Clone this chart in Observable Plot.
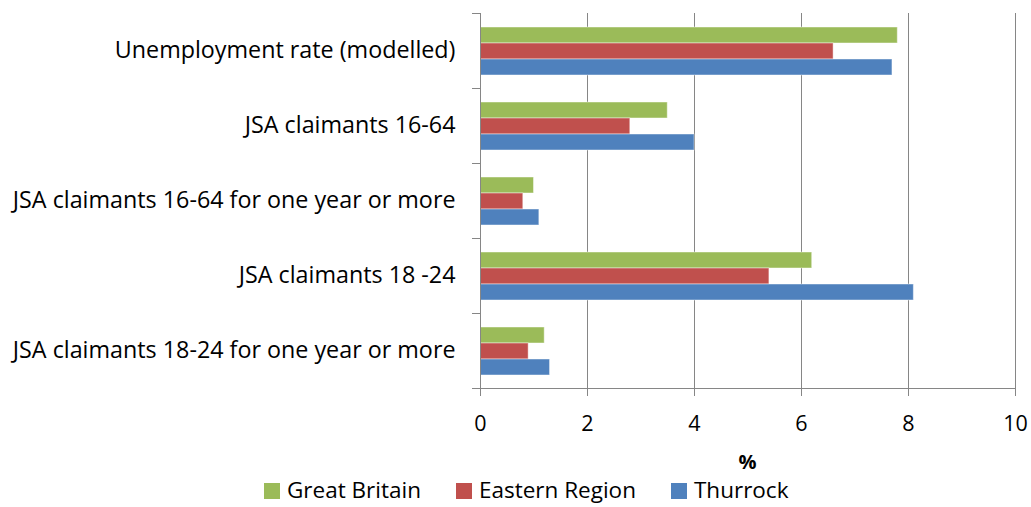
<!DOCTYPE html>
<html>
<head>
<meta charset="utf-8">
<script src="https://cdn.jsdelivr.net/npm/d3@7"></script>
<script src="https://cdn.jsdelivr.net/npm/@observablehq/plot@0.6"></script>
<style>
  html, body { margin: 0; padding: 0; background: #fff; }
  body { font-family: "Open Sans", sans-serif; color: #000; width: 1031px; height: 507px; position: relative; overflow: hidden; }
  #chart { position: absolute; left: 0; top: 0; }
  #xlabel { position: absolute; left: 480px; width: 535px; top: 450px; text-align: center; font-weight: bold; font-size: 20px; line-height: 24px; }
  #legend { position: absolute; left: 264px; top: 475px; height: 30px; display: flex; align-items: center; font-size: 22.5px; line-height: 30px; white-space: nowrap; }
  .item { display: flex; align-items: center; margin-right: 35px; }
  .sw { width: 16px; height: 16px; margin-right: 7px; margin-top: 2px; }
</style>
</head>
<body>
<div id="chart"></div>
<div id="xlabel">%</div>
<div id="legend"></div>
<script>
const categories = [
  "Unemployment rate (modelled)",
  "JSA claimants 16-64",
  "JSA claimants 16-64 for one year or more",
  "JSA claimants 18 -24",
  "JSA claimants 18-24 for one year or more"
];
const series = ["Great Britain", "Eastern Region", "Thurrock"];
const greatBritain  = [7.8, 3.5, 1.0, 6.2, 1.2];
const easternRegion = [6.6, 2.8, 0.8, 5.4, 0.9];
const thurrock      = [7.7, 4.0, 1.1, 8.1, 1.3];
const xTicks = [0, 2, 4, 6, 8, 10];
const colors = ["#9BBB59", "#C0504D", "#4F81BD"];

const valuesBySeries = [greatBritain, easternRegion, thurrock];
const table = [];
categories.forEach((c, i) => {
  series.forEach((s, j) => {
    table.push({category: c, series: s, value: valuesBySeries[j][i]});
  });
});

const grid = "#868686";
const plot = Plot.plot({
  width: 1031,
  height: 440,
  marginLeft: 480,
  marginRight: 16,
  marginTop: 12,
  marginBottom: 52,
  style: {fontFamily: "Open Sans", fontSize: "20px", color: "#000", background: "#fff", overflow: "visible"},
  x: {domain: [0, 10], axis: null},
  fy: {domain: categories, padding: 0, axis: null},
  y: {domain: series, paddingInner: 0, paddingOuter: 0.762, axis: null},
  color: {domain: series, range: colors},
  marks: [
    Plot.ruleX(xTicks.slice(1), {stroke: grid, strokeWidth: 1}),
    Plot.barX(table, {x: "value", y: "series", fy: "category", fill: "series", stroke: "#ffffff", strokeOpacity: 0.45, strokeWidth: 1}),
    Plot.frame({anchor: "left", stroke: grid}),
    Plot.frame({anchor: "top", stroke: grid, insetLeft: -8, insetRight: 535}),
    Plot.frame({anchor: "bottom", stroke: grid, insetLeft: -8, insetRight: 535}),
    Plot.frame({anchor: "bottom", stroke: grid, facetAnchor: "bottom"}),
    Plot.axisFy({anchor: "left", tickSize: 0, tickPadding: 25, label: null, fontSize: 23.3, fill: "#000"}),
    Plot.axisX({anchor: "bottom", ticks: xTicks, tickSize: 8, tickPadding: 19, label: null, fontSize: 21.5, stroke: grid, fill: "#000"})
  ]
});
document.getElementById("chart").appendChild(plot);

const legend = d3.select("#legend");
series.forEach((s, i) => {
  const item = legend.append("div").attr("class", "item");
  item.append("div").attr("class", "sw").style("background", colors[i]);
  item.append("span").text(s);
});
</script>
</body>
</html>
